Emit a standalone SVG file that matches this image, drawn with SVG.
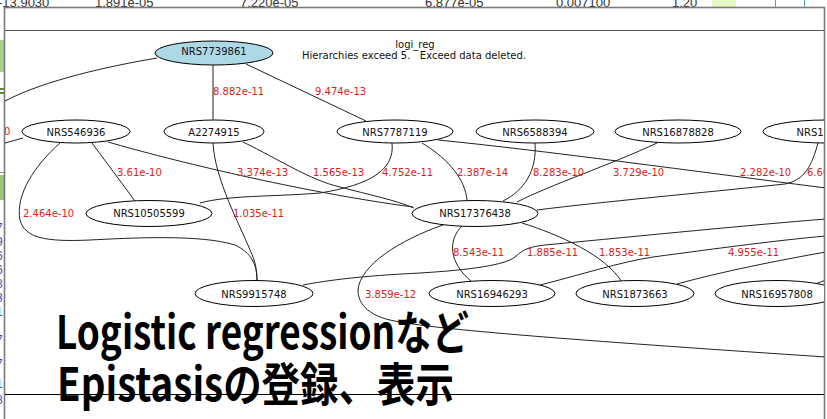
<svg xmlns="http://www.w3.org/2000/svg" width="827" height="419" viewBox="0 0 827 419">
<style>
.n ellipse{fill:#fff;stroke:#000;stroke-width:1}
.n text{font-family:"DejaVu Sans",sans-serif;font-size:10px;fill:#111;text-anchor:middle}
.e path{fill:none;stroke:#222;stroke-width:1}
.lb text{font-family:"DejaVu Sans",sans-serif;font-size:10px;fill:#dd1c1c}
.sheet{font-family:"Liberation Sans",sans-serif;font-size:13px;fill:#333}
.big{font-family:"Noto Sans CJK JP","Liberation Sans",sans-serif;font-weight:bold;font-size:46px;fill:#000}
.title{font-family:"DejaVu Sans",sans-serif;font-size:10px;fill:#111;text-anchor:middle;white-space:pre}
</style>
<defs>
<clipPath id="win"><rect x="5" y="31" width="819" height="388"/></clipPath>
<clipPath id="top"><rect x="0" y="0" width="827" height="7"/></clipPath>
<clipPath id="left"><rect x="0" y="0" width="4" height="419"/></clipPath>
</defs>
<rect width="827" height="419" fill="#fff"/>
<!-- background spreadsheet fragments -->
<g clip-path="url(#top)">
<text class="sheet" x="-2" y="7">-13.9030</text>
<text class="sheet" x="95" y="7">1.891e-05</text>
<text class="sheet" x="240" y="7">7.220e-05</text>
<text class="sheet" x="425" y="7">6.877e-05</text>
<text class="sheet" x="556" y="7">0.007100</text>
<text class="sheet" x="672" y="7">1.20</text>
<rect x="712" y="0" width="24" height="7" fill="#e6f7c6"/>
<line x1="775.5" y1="0" x2="775.5" y2="7" stroke="#4aa8b8"/>
<line x1="804.5" y1="0" x2="804.5" y2="7" stroke="#4aa8b8"/>
</g>
<g clip-path="url(#left)">
<rect x="0" y="40" width="4" height="32" fill="#a9d18e"/>
<rect x="0" y="88" width="4" height="2" fill="#5b8c3a"/>
<rect x="0" y="92" width="4" height="2" fill="#5b8c3a"/>
<rect x="0" y="175" width="4" height="25" fill="#9cc77a"/>
<rect x="0" y="172" width="4" height="1" fill="#999"/>
<g class="sheet" fill="#4a4aa8" style="fill:#4a4aa8;font-size:12px">
<text x="-4" y="232">7</text><text x="-4" y="246">9</text><text x="-4" y="260">6</text>
<text x="-4" y="274">6</text><text x="-4" y="288">8</text><text x="-4" y="302">3</text>
<text x="-4" y="316">1</text><text x="-4" y="344">7</text><text x="-4" y="368">7</text>
<text x="-4" y="388">1</text><text x="-4" y="404">8</text>
</g>
</g>
<!-- window frame -->
<rect x="4.5" y="7.5" width="820" height="420" fill="#fff" stroke="#7a7a7a" stroke-width="1.6"/>
<line x1="5" y1="30.5" x2="824" y2="30.5" stroke="#555" stroke-width="1.2"/>
<line x1="5" y1="394.5" x2="824" y2="394.5" stroke="#000" stroke-width="1"/>
<text class="title" x="415" y="48">logi_reg</text>
<text class="title" x="414" y="59">Hierarchies exceed 5.   Exceed data deleted.</text>
<g clip-path="url(#win)">
<g class="e" id="connectors">
<path d="M157,58 C110,66 45,80 5,101"/>
<path d="M213,65 L213,119.5"/>
<path d="M246,64 L366,121"/>
<path d="M5,143 L23,138"/>
<path d="M60,143 C35,165 15,195 20,220 C25,238 45,242 90,240 C130,238 200,234 235,245 C252,253 257,265 257,281"/>
<path d="M92,143 L135,201"/>
<path d="M108,142 C170,160 300,192 413,207"/>
<path d="M213,143 C215,180 240,225 250,250 C256,262 257,272 257,281"/>
<path d="M243,142 C280,160 310,180 340,187 C370,195 395,200 414,208"/>
<path d="M392,143 C395,170 370,185 320,193 C270,197 230,195 200,203"/>
<path d="M422,143 C450,160 465,180 467,200"/>
<path d="M535,143 C537,170 525,190 503,201"/>
<path d="M657,143 C610,165 550,185 517,202"/>
<path d="M438,140 C540,150 700,172 826,188"/>
<path d="M818,143 C812,165 805,180 785,184 C700,193 600,202 537,210"/>
<path d="M462,226 C448,240 448,262 472,282"/>
<path d="M522,223 C560,235 605,255 622,282"/>
<path d="M443,225 C400,240 360,265 358,290 C358,305 370,318 401,322 C440,330 600,342 826,357"/>
<path d="M303,285 C330,280 360,276 420,273 C470,270 505,265 515,257 C525,248 530,247 545,245 C650,235 750,225 826,219"/>
<path d="M540,285 C580,275 620,262 653,257 C720,248 780,240 826,236"/>
<path d="M677,284 C720,272 780,260 826,252"/>
<path d="M815,284 L826,280"/>
</g>
<g class="lb" id="edge-labels">
<text x="213" y="95">8.882e-11</text>
<text x="315" y="95">9.474e-13</text>
<text x="4" y="135">0</text>
<text x="117" y="176">3.61e-10</text>
<text x="237" y="176">3.374e-13</text>
<text x="313" y="176">1.565e-13</text>
<text x="382" y="176">4.752e-11</text>
<text x="457" y="176">2.387e-14</text>
<text x="533" y="176">8.283e-10</text>
<text x="613" y="176">3.729e-10</text>
<text x="740" y="176">2.282e-10</text>
<text x="807" y="176">6.66</text>
<text x="23" y="217">2.464e-10</text>
<text x="233" y="217">1.035e-11</text>
<text x="453" y="256">8.543e-11</text>
<text x="527" y="256">1.885e-11</text>
<text x="599" y="256">1.853e-11</text>
<text x="728" y="256">4.955e-11</text>
<text x="365" y="298">3.859e-12</text>
</g>
<g class="n" id="NRS7739861"><ellipse cx="214" cy="53" rx="59" ry="12" style="fill:#add8e6"/><text x="214" y="55">NRS7739861</text></g>
<g class="n" id="NRS546936"><ellipse cx="76" cy="131.5" rx="54" ry="11.5"/><text x="76" y="136">NRS546936</text></g>
<g class="n" id="A2274915"><ellipse cx="214" cy="131.5" rx="50" ry="11.5"/><text x="214" y="136">A2274915</text></g>
<g class="n" id="NRS7787119"><ellipse cx="395" cy="131.5" rx="58" ry="11.5"/><text x="395" y="136">NRS7787119</text></g>
<g class="n" id="NRS6588394"><ellipse cx="535" cy="131.5" rx="59" ry="11.5"/><text x="535" y="136">NRS6588394</text></g>
<g class="n" id="NRS16878828"><ellipse cx="678" cy="131.5" rx="63" ry="11.5"/><text x="678" y="136">NRS16878828</text></g>
<g class="n" id="NRS110"><ellipse cx="826" cy="131.5" rx="63" ry="11.5"/><text x="826" y="136">NRS110000</text></g>
<g class="n" id="NRS10505599"><ellipse cx="149" cy="213.5" rx="63" ry="13"/><text x="149" y="217">NRS10505599</text></g>
<g class="n" id="NRS17376438"><ellipse cx="475" cy="213.5" rx="63" ry="13"/><text x="475" y="217">NRS17376438</text></g>
<g class="n" id="NRS9915748"><ellipse cx="254" cy="293.5" rx="59" ry="13"/><text x="254" y="298">NRS9915748</text></g>
<g class="n" id="NRS16946293"><ellipse cx="492" cy="293.5" rx="63" ry="13"/><text x="492" y="298">NRS16946293</text></g>
<g class="n" id="NRS1873663"><ellipse cx="635" cy="293.5" rx="59" ry="13"/><text x="635" y="298">NRS1873663</text></g>
<g class="n" id="NRS16957808"><ellipse cx="777" cy="293.5" rx="62" ry="13"/><text x="777" y="298">NRS16957808</text></g>
</g>
<text class="big" x="56" y="349" textLength="413" lengthAdjust="spacingAndGlyphs">Logistic regressionなど</text>
<text class="big" x="57" y="401" textLength="397" lengthAdjust="spacingAndGlyphs">Epistasisの登録、表示</text>
</svg>
